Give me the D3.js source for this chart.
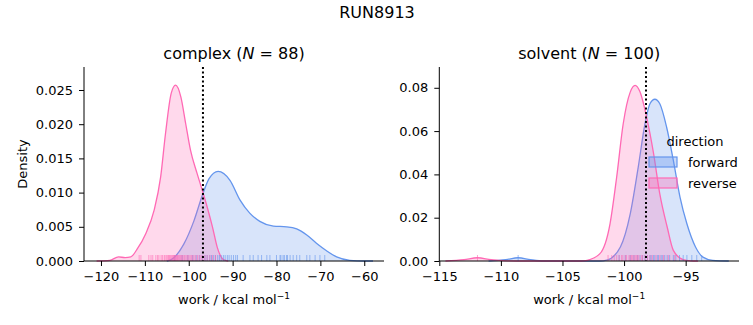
<!DOCTYPE html>
<html>
<head>
<meta charset="utf-8">
<script src="https://cdn.jsdelivr.net/npm/d3@7"></script>
<style>
  body { margin: 0; background: #fff; }
  svg, svg text { font-family: "DejaVu Sans", sans-serif; }
  .tick text { font-size: 13px; fill: #000; font-family: "DejaVu Sans", sans-serif; }
  .tick line, .domain { stroke: #000; }
</style>
</head>
<body>
<svg id="chart" width="753" height="325"></svg>
<script>
// KDE curves (work in kcal/mol, density)
var complexForwardWork = [-105, -104, -101.1, -98.8, -96.9, -95.4, -93.3, -90.6, -88.3, -86.1, -83.8, -80.7, -77.7, -75.4, -73.1, -70.9, -68.6, -66.3, -63.3, -60, -58];
var complexForwardDensity = [0, 0.0002, 0.0025, 0.0059, 0.0096, 0.012, 0.0131, 0.0118, 0.0089, 0.007, 0.0058, 0.0051, 0.005, 0.0047, 0.0038, 0.0026, 0.0015, 0.0006, 0.0001, 0, 0];
var complexReverseWork = [-121, -118, -116, -114.5, -113.2, -111.7, -109.8, -107.9, -106.4, -105.3, -104.0, -103.0, -101.8, -100.7, -99.6, -98.1, -96.9, -95.8, -94.6, -93.5, -92.1, -91];
var complexReverseDensity = [0, 0.0001, 0.0006, 0.0005, 0.0006, 0.0018, 0.004, 0.0074, 0.0123, 0.0186, 0.0245, 0.0257, 0.024, 0.0201, 0.0162, 0.0128, 0.0103, 0.0079, 0.005, 0.002, 0.0002, 0];

var solventForwardWork = [-111, -109.6, -108.6, -107.6, -106.5, -102, -101.4, -100.3, -99.5, -98.85, -98.3, -97.9, -97.5, -97.1, -96.55, -96.0, -95.46, -94.9, -94.2, -93.6, -92.8, -91.5];
var solventForwardDensity = [0, 0.0006, 0.0015, 0.0006, 0, 0, 0.0004, 0.0065, 0.0218, 0.0434, 0.0634, 0.0726, 0.0747, 0.0726, 0.0619, 0.0465, 0.0295, 0.0172, 0.0065, 0.0018, 0.0003, 0];
var solventReverseWork = [-114.5, -113, -111.9, -110.8, -109.5, -108, -103.5, -103.0, -101.96, -101.14, -100.6, -100.07, -99.5, -99.1, -98.7, -98.17, -97.6, -97.1, -96.5, -96.0, -95.2, -94.6, -94];
var solventReverseDensity = [0, 0.0006, 0.0015, 0.0006, 0.0001, 0, 0, 0.0003, 0.0034, 0.0172, 0.0388, 0.0634, 0.078, 0.0811, 0.078, 0.0665, 0.0495, 0.031, 0.0157, 0.0049, 0.0006, 0.0001, 0];

// rug samples
var complexForwardRug = [-103.2, -101.5, -100.2, -99.1, -98.3, -97.6, -96.9, -96.3, -95.8, -95.2, -94.8, -94.3, -93.9, -93.4, -93.0, -92.6, -92.1, -91.7, -91.2, -90.8, -90.3, -89.8, -89.3, -88.9, -87.6, -86.05, -85.3, -84.2, -83.4, -82.2, -81.5, -80.0, -79.2, -79.0, -78.5, -78.2, -77.7, -77.5, -76.9, -76.2, -75.4, -74.7, -73.1, -72.4, -71.2, -70.1, -69.0];
var complexReverseRug = [-111.3, -110.9, -109.1, -108.6, -108.2, -107.5, -107.1, -106.8, -106.3, -106.0, -105.6, -105.4, -105.1, -104.8, -104.6, -104.4, -104.2, -104.0, -103.8, -103.6, -103.5, -103.3, -103.2, -103.0, -102.9, -102.7, -102.6, -102.4, -102.2, -102.0, -101.8, -101.6, -101.4, -101.1, -100.9, -100.6, -100.3, -100.0, -99.7, -99.4, -99.1, -98.8, -98.4, -98.0, -97.6, -97.2, -96.8, -96.3, -95.8, -95.2, -94.6, -93.9];
var solventForwardRug = [-108.6, -100.4, -99.9, -99.5, -99.2, -98.9, -98.7, -98.5, -98.3, -98.1, -97.9, -97.8, -97.6, -97.5, -97.3, -97.2, -97.0, -96.9, -96.7, -96.5, -96.3, -96.0, -95.8, -95.5, -95.2, -94.9, -94.5, -94.1, -93.7];
var solventReverseRug = [-111.9, -101.3, -101.0, -100.8, -100.6, -100.4, -100.2, -100.1, -99.9, -99.8, -99.6, -99.5, -99.4, -99.3, -99.2, -99.1, -99.0, -98.9, -98.8, -98.6, -98.5, -98.3, -98.1, -97.9, -97.7, -97.4, -97.1, -96.8, -96.4, -95.9];

var complexTicksX = [-120, -110, -100, -90, -80, -70, -60];
var complexTicksY = [0, 0.005, 0.010, 0.015, 0.020, 0.025];
var solventTicksX = [-115, -110, -105, -100, -95];
var solventTicksY = [0, 0.02, 0.04, 0.06, 0.08];

var directions = ['forward', 'reverse'];
var colors = { forward: '#6495ed', reverse: '#ff69b4' };

var svg = d3.select('#chart');
var plotTop = 67, plotBottom = 261;

svg.append('text')
  .attr('x', 377).attr('y', 18)
  .attr('text-anchor', 'middle')
  .style('font-size', '16px')
  .text('RUN8913');

var zip = function (xs, ys) {
  return xs.map(function (x, i) { return [x, ys[i]]; });
};

var drawPanel = function (opts) {
  var x = d3.scaleLinear().domain(opts.xDomain).range([opts.left, opts.right]);
  var y = d3.scaleLinear().domain(opts.yDomain).range([plotBottom, plotTop]);
  var g = svg.append('g');

  var area = d3.area()
    .x(function (d) { return x(d[0]); })
    .y0(y(0))
    .y1(function (d) { return y(d[1]); })
    .curve(d3.curveMonotoneX);
  var line = d3.line()
    .x(function (d) { return x(d[0]); })
    .y(function (d) { return y(d[1]); })
    .curve(d3.curveMonotoneX);

  // draw forward first, reverse on top (like the hue order)
  opts.curves.forEach(function (c) {
    g.append('path').datum(c.data)
      .attr('d', area)
      .attr('fill', colors[c.dir])
      .attr('fill-opacity', 0.25);
    g.append('path').datum(c.data)
      .attr('d', line)
      .attr('fill', 'none')
      .attr('stroke', colors[c.dir])
      .attr('stroke-width', 1.3);
  });

  // rug marks
  opts.rugs.forEach(function (r) {
    g.selectAll(null).data(r.data).enter().append('line')
      .attr('x1', function (d) { return x(d); })
      .attr('x2', function (d) { return x(d); })
      .attr('y1', plotBottom)
      .attr('y2', plotBottom - 6)
      .attr('stroke', colors[r.dir])
      .attr('stroke-opacity', 0.6)
      .attr('stroke-width', 1);
  });

  // dotted line
  g.append('line')
    .attr('x1', x(opts.vline)).attr('x2', x(opts.vline))
    .attr('y1', plotTop).attr('y2', plotBottom)
    .attr('stroke', '#000')
    .attr('stroke-width', 2)
    .attr('stroke-dasharray', '2,2.5');

  var fmtMinus = function (f) {
    return function (d) { return f(d).replace('-', '\u2212'); };
  };

  var xAxis = g.append('g')
    .attr('transform', 'translate(0,' + plotBottom + ')')
    .call(d3.axisBottom(x).tickValues(opts.xTicks).tickSize(5).tickPadding(5)
      .tickFormat(fmtMinus(d3.format('d'))));
  xAxis.select('.domain').attr('d', 'M' + opts.left + ',0H' + opts.right);

  var yAxis = g.append('g')
    .attr('transform', 'translate(' + opts.left + ',0)')
    .call(d3.axisLeft(y).tickValues(opts.yTicks).tickSize(5).tickPadding(6)
      .tickFormat(d3.format(opts.yFormat)));
  yAxis.select('.domain').attr('d', 'M0,' + plotTop + 'V' + plotBottom);
  g.selectAll('.tick text').attr('fill', '#000');
  xAxis.selectAll('.tick text').attr('dy', null).attr('y', 20);
  xAxis.attr('font-family', null);
  yAxis.attr('font-family', null);

  var xl = g.append('text')
    .attr('x', (opts.left + opts.right) / 2).attr('y', 304)
    .attr('text-anchor', 'middle')
    .style('font-size', '13px')
    .text('work / kcal mol');
  xl.append('tspan')
    .attr('dy', -5)
    .style('font-size', '9px')
    .text('\u22121');

  var t = g.append('text')
    .attr('x', (opts.left + opts.right) / 2).attr('y', 59)
    .attr('text-anchor', 'middle')
    .style('font-size', '16px')
    .text(opts.name + ' (');
  t.append('tspan').style('font-style', 'italic').text('N');
  t.append('tspan').text(' = ' + opts.n + ')');

  return { x: x, y: y };
};

drawPanel({
  left: 84, right: 384,
  xDomain: [-123.87, -55.5], yDomain: [0, 0.02836],
  xTicks: complexTicksX, yTicks: complexTicksY, yFormat: '.3f',
  vline: -96.76, name: 'complex', n: 88,
  curves: [
    { dir: 'forward', data: zip(complexForwardWork, complexForwardDensity) },
    { dir: 'reverse', data: zip(complexReverseWork, complexReverseDensity) }
  ],
  rugs: [
    { dir: 'forward', data: complexForwardRug },
    { dir: 'reverse', data: complexReverseRug }
  ]
});

drawPanel({
  left: 439.3, right: 739,
  xDomain: [-115, -90.67], yDomain: [0, 0.0896],
  xTicks: solventTicksX, yTicks: solventTicksY, yFormat: '.2f',
  vline: -98.22, name: 'solvent', n: 100,
  curves: [
    { dir: 'forward', data: zip(solventForwardWork, solventForwardDensity) },
    { dir: 'reverse', data: zip(solventReverseWork, solventReverseDensity) }
  ],
  rugs: [
    { dir: 'forward', data: solventForwardRug },
    { dir: 'reverse', data: solventReverseRug }
  ]
});

// y label
svg.append('text')
  .attr('transform', 'translate(27,164) rotate(-90)')
  .attr('text-anchor', 'middle')
  .style('font-size', '13px')
  .text('Density');

// legend
var legend = svg.append('g');
legend.append('text')
  .attr('x', 695).attr('y', 146)
  .attr('text-anchor', 'middle')
  .style('font-size', '13px')
  .text('direction');
directions.forEach(function (dir, i) {
  var yy = 157 + i * 21;
  legend.append('rect')
    .attr('x', 649).attr('y', yy)
    .attr('width', 28).attr('height', 10)
    .attr('fill', colors[dir])
    .attr('fill-opacity', 0.35)
    .attr('stroke', colors[dir])
    .attr('stroke-width', 1.2);
  legend.append('text')
    .attr('x', 688).attr('y', yy + 9.5)
    .style('font-size', '13px')
    .text(dir);
});
</script>
</body>
</html>
